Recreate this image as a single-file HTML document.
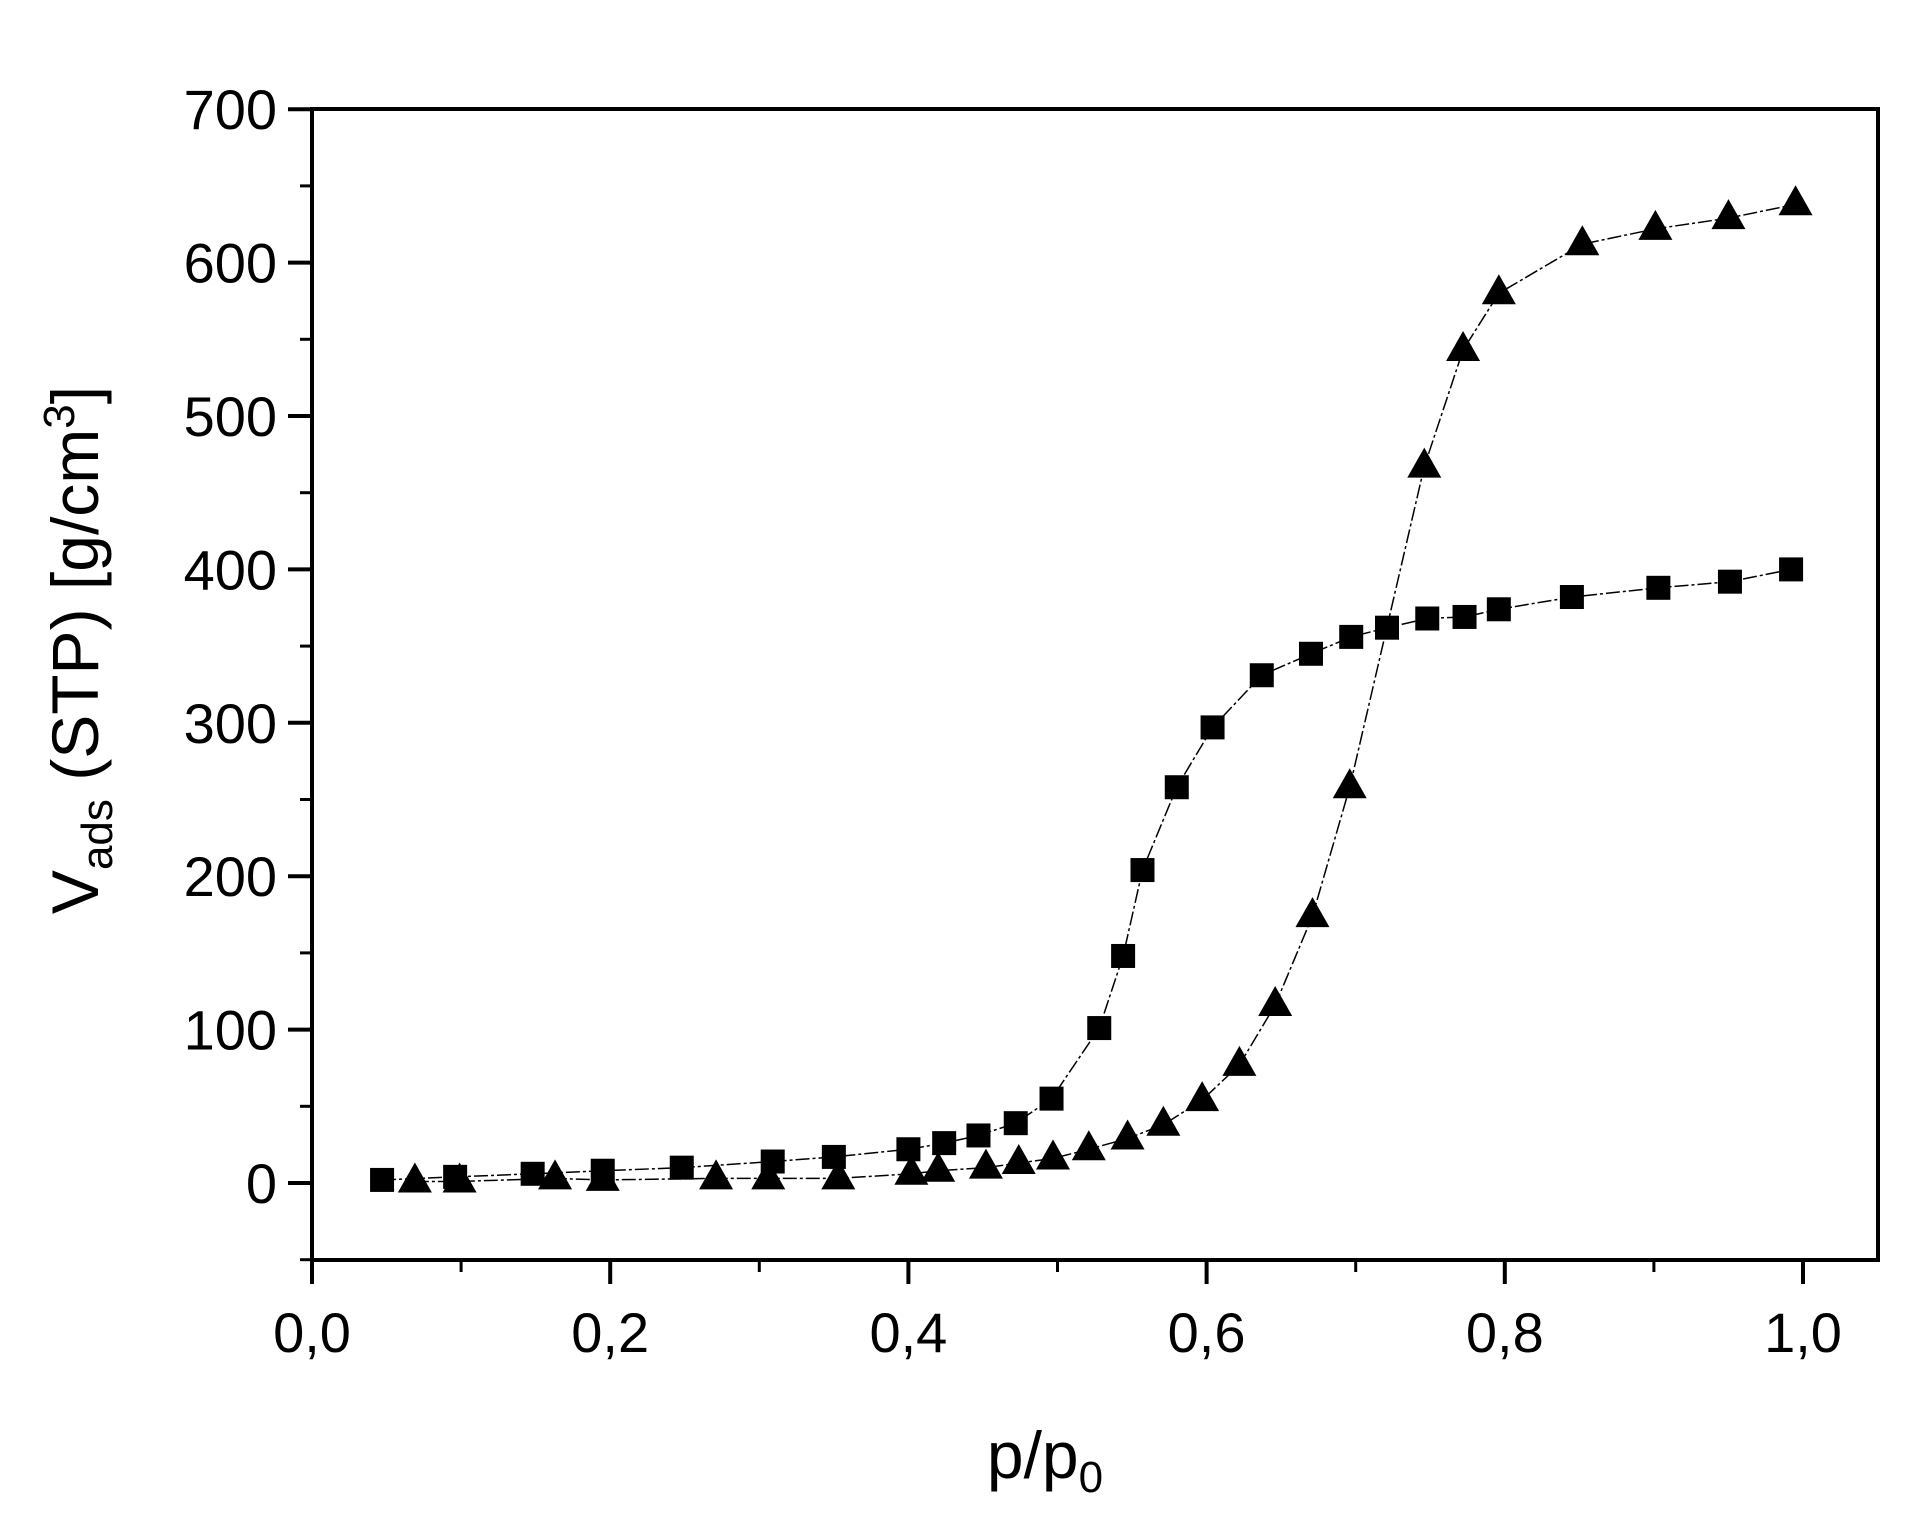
<!DOCTYPE html>
<html><head><meta charset="utf-8"><style>
html,body{margin:0;padding:0;background:#fff}
svg{display:block;font-family:"Liberation Sans",Arial,sans-serif}
</style></head><body>
<svg id="chart" width="1928" height="1532" viewBox="0 0 1928 1532" xmlns="http://www.w3.org/2000/svg">
<rect width="1928" height="1532" fill="#fff"/>
<g id="axes"></g>
<g id="series"></g>
<text x="1045" y="1478" font-size="66" text-anchor="middle">p/p<tspan font-size="44" dy="14">0</tspan></text>
<text transform="translate(98,650) rotate(-90)" font-size="66" text-anchor="middle">V<tspan font-size="44" dy="14">ads</tspan><tspan dy="-14"> (STP) [g/cm</tspan><tspan font-size="44" dy="-24">3</tspan><tspan dy="24">]</tspan></text>
</svg>
<script>
const sqX=[0.047,0.096,0.148,0.195,0.248,0.309,0.350,0.400,0.424,0.447,0.472,0.496,0.528,0.544,0.557,0.580,0.604,0.637,0.670,0.697,0.721,0.748,0.773,0.796,0.845,0.903,0.951,0.992];
const sqY=[2,4,6,8,10,14,17,22,26,31,39,55,101,148,204,258,297,331,345,356,362,368,369,374,382,388,392,400];
const triX=[0.069,0.099,0.163,0.195,0.271,0.306,0.353,0.402,0.420,0.452,0.474,0.497,0.521,0.547,0.571,0.597,0.622,0.646,0.671,0.696,0.746,0.772,0.796,0.852,0.901,0.950,0.995];
const triY=[1,1,3,2,3,3,3,6,8,10,13,16,22,29,38,54,77,116,174,258,467,543,580,612,622,629,638];
const xTicks=[0,0.2,0.4,0.6,0.8,1.0];
const xTickLabels=["0,0","0,2","0,4","0,6","0,8","1,0"];
const yTicks=[0,100,200,300,400,500,600,700];
const yTickLabels=["0","100","200","300","400","500","600","700"];

const X0=312,X1=1878,Y0=109,Y1=1260;
const sx=v=>312+v*1491;
const sy=v=>1183-v*1.534;
const NS="http://www.w3.org/2000/svg";
const ax=document.getElementById('axes'), se=document.getElementById('series');
function mk(tag,attrs,parent){const e=document.createElementNS(NS,tag);for(const k in attrs)e.setAttribute(k,attrs[k]);parent.appendChild(e);return e;}

let frame=mk('rect',{x:X0,y:Y0,width:X1-X0,height:Y1-Y0,fill:'none',stroke:'#000','stroke-width':4},ax);



xTicks.forEach((v,i)=>{
  const t=mk('line',{x1:sx(v),x2:sx(v),y1:Y1,y2:Y1+24,stroke:'#000','stroke-width':4},ax);
  
  
  const l=mk('text',{x:sx(v),y:1352,'font-size':56,'text-anchor':'middle'},ax);
  l.textContent=xTickLabels[i];
  
  
  if(i<xTicks.length-1){
    const m=mk('line',{x1:sx(v+0.1),x2:sx(v+0.1),y1:Y1,y2:Y1+12,stroke:'#000','stroke-width':3},ax);
    
    
  }
});
const mx=mk('line',{x1:X0,x2:X0,y1:Y1,y2:Y1+24,stroke:'#000','stroke-width':4},ax);
yTicks.forEach((v,i)=>{
  const t=mk('line',{x1:X0-24,x2:X0,y1:sy(v),y2:sy(v),stroke:'#000','stroke-width':4},ax);
  
  
  const l=mk('text',{x:277,y:sy(v)+20,'font-size':56,'text-anchor':'end'},ax);
  l.textContent=yTickLabels[i];
  
  
});
[-50,50,150,250,350,450,550,650].forEach(v=>{
  const m=mk('line',{x1:X0-12,x2:X0,y1:sy(v),y2:sy(v),stroke:'#000','stroke-width':3},ax);
  
  
});

function line(xs,ys,name){
  const p=mk('polyline',{points:xs.map((x,i)=>sx(x)+','+sy(ys[i])).join(' '),fill:'none',stroke:'#000','stroke-width':1.5,'stroke-dasharray':'14 3 3 3'},se);
  
  
}
line(sqX,sqY,'adsorption-line');
line(triX,triY,'desorption-line');
sqX.forEach((x,i)=>{
  const r=mk('rect',{x:sx(x)-12,y:sy(sqY[i])-12,width:24,height:24,fill:'#000'},se);
  
  
});
triX.forEach((x,i)=>{
  const cx=sx(x),cy=sy(triY[i]);
  const t=mk('polygon',{points:`${cx-17},${cy+11} ${cx+17},${cy+11} ${cx},${cy-19}`,fill:'#000'},se);
  
  
});
</script>
</body></html>
